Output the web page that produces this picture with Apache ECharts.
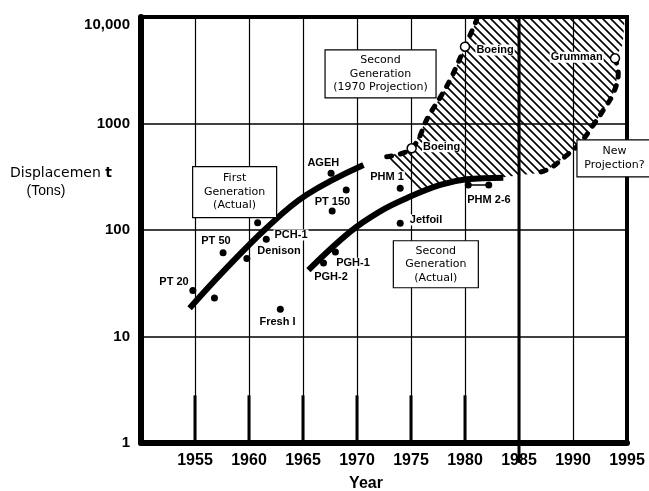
<!DOCTYPE html>
<html>
<head>
<meta charset="utf-8">
<script src="https://cdn.jsdelivr.net/npm/echarts@6.0.0/dist/echarts.min.js"></script>
<style>
  html, body { margin: 0; padding: 0; background: #fff; }
  #chart { width: 649px; height: 491px; }
</style>
</head>
<body>
<div id="chart"></div>
<script>
// Hydrofoil craft: full-load displacement (tons, log scale) against year.

// Individual craft (filled dots)
const craftYears = [1954.8, 1956.8, 1957.6, 1959.8, 1960.8, 1961.6, 1962.9, 1966.9, 1967.6, 1967.7, 1968.0, 1969.0, 1974.0, 1974.0];
const craftTons  = [27, 23, 61, 54, 117, 82, 18, 49, 341, 151, 62, 238, 246, 116];

// PHM 2-6 production span
const phmYears = [1980.3, 1982.2];
const phmTons  = [265, 265];

// Trend curves
const firstGenYears  = [1954.5, 1957.6, 1961.6, 1965.3, 1970.6];
const firstGenTons   = [18.4, 40.6, 104, 213, 408];
const secondGenYears = [1965.5, 1969.35, 1972.1, 1974.6, 1977.7, 1980.15, 1983.55];
const secondGenTons  = [42, 96, 149, 199, 265, 299, 310];

// 1970 projection envelope (dashed)
const projLeftYears  = [1972.75, 1975.06, 1976.6, 1977.84, 1978.77, 1980.0, 1981.08];
const projLeftTons   = [488, 585, 1159, 1852, 2750, 5260, 9370];
const projRightYears = [1993.89, 1994.19, 1993.73, 1992.81, 1991.88, 1990.65, 1989.26, 1987.87, 1986.64];
const projRightTons  = [4093, 2960, 1921, 1339, 968, 652, 488, 380, 341];

// Closing edges of the shaded envelope
const shadeTopYears  = [1981.3, 1994.8, 1994.6];
const shadeTopTons   = [10000, 10000, 5500];
const shadeFootYears = [1983.55, 1980.16, 1977.69, 1975.8];
const shadeFootTons  = [312, 300, 266, 222];

// Projected designs (open circles)
const designYears = [1975.06, 1980.0, 1993.89];
const designTons  = [585, 5260, 4093];

// Craft labels
const labelTexts = ['PT 20', 'PT 50', 'PCH-1', 'Denison', 'Fresh I', 'AGEH', 'PT 150', 'PGH-1', 'PGH-2', 'PHM 1', 'Jetfoil', 'PHM 2-6', 'Boeing', 'Boeing', 'Grumman'];
const labelYears = [1953.06, 1956.94, 1963.89, 1962.78, 1962.64, 1966.88, 1967.73, 1969.63, 1967.59, 1972.78, 1976.39, 1982.22, 1977.84, 1982.78, 1990.34];
const labelTons  = [32.5, 78.9, 89.8, 63.9, 13.8, 423, 184.5, 48.7, 36.4, 316, 124, 191, 606, 4898, 4185];

// Boxed captions
const boxTexts = ['First\nGeneration\n(Actual)', 'Second\nGeneration\n(1970 Projection)', 'Second\nGeneration\n(Actual)', 'New\nProjection?'];
const boxYears = [1958.67, 1972.18, 1977.3, 1993.84];
const boxTons  = [227, 2930, 47.7, 471];

// Axis ticks
const yearTicks = [1950, 1955, 1960, 1965, 1970, 1975, 1980, 1985, 1990, 1995];
const tonTicks  = [1, 10, 100, 1000, 10000];

// Heavy stubs at the foot of the year rules, and the heavy 1985 rule
const stubYears = [1955, 1960, 1965, 1970, 1975, 1980];
const stubFrom = 1, stubTo = 2.8;
const heavyRuleYear = 1985, heavyRuleFrom = 0.65, heavyRuleTo = 10000;

// ---- styling ----
const SANS = '"Liberation Sans", Arial, Helvetica, sans-serif';
const BOX_FONT = '11px "DejaVu Sans", sans-serif';
const LABEL_FONT = 'bold 11px ' + SANS;
const boxSizes = [[84, 51], [111, 48], [85, 47], [75, 37]];

const pairs = (xs, ys) => xs.map((x, i) => [x, ys[i]]);

function hatchPattern() {
  const s = 8;
  const c = document.createElement('canvas');
  c.width = s; c.height = s;
  const g = c.getContext('2d');
  g.strokeStyle = '#000';
  g.lineWidth = 1.6;
  g.beginPath();
  g.moveTo(-1, -1); g.lineTo(s + 1, s + 1);
  g.moveTo(s - 1, -1); g.lineTo(s + 1, 1);
  g.moveTo(-1, s - 1); g.lineTo(1, s + 1);
  g.stroke();
  return c;
}
const hatch = hatchPattern();

const chart = echarts.init(document.getElementById('chart'), null, { renderer: 'canvas' });

const option = {
  animation: false,
  backgroundColor: '#fff',
  grid: { left: 141, right: 22, top: 17, bottom: 48, show: true, borderColor: '#000', borderWidth: 4, backgroundColor: 'transparent' },
  xAxis: {
    type: 'value', min: yearTicks[0], max: yearTicks[yearTicks.length - 1], interval: 5,
    axisLine: { show: true, onZero: false, lineStyle: { color: '#000', width: 6 } },
    axisTick: { show: false },
    axisLabel: {
      margin: 10, color: '#000', fontFamily: SANS, fontWeight: 'bold', fontSize: 16,
      formatter: v => (v === yearTicks[0] ? '' : String(v))
    },
    splitLine: { show: true, lineStyle: { color: '#000', width: 1.2 } }
  },
  yAxis: {
    type: 'log', logBase: 10, min: tonTicks[0], max: tonTicks[tonTicks.length - 1],
    axisLine: { show: true, lineStyle: { color: '#000', width: 6 } },
    axisTick: { show: false },
    axisLabel: {
      margin: 11, color: '#000', fontFamily: SANS, fontWeight: 'bold', fontSize: 15,
      formatter: v => {
        const n = Math.round(v);
        return n === 10000 ? '{top|10,000}' : String(n);
      },
      rich: { top: { fontFamily: SANS, fontWeight: 'bold', fontSize: 15, color: '#000', padding: [16, 0, 0, 0] } }
    },
    splitLine: { show: true, lineStyle: { color: '#000', width: 1.5 } }
  },
  graphic: [
    { type: 'text', left: 10, top: 166, style: { text: 'Displacemen {b|t}', font: '14px "DejaVu Sans", sans-serif', fill: '#000',
      rich: { b: { font: 'bold 14px "DejaVu Sans", sans-serif', fill: '#000' } } } },
    { type: 'text', x: 46, y: 191, style: { text: '(Tons)', font: '14px "Liberation Sans Narrow", "Liberation Sans", sans-serif', fill: '#000', align: 'center', verticalAlign: 'middle' } },
    { type: 'text', x: 366, y: 484, style: { text: 'Year', font: 'bold 16px ' + SANS, fill: '#000', align: 'center', verticalAlign: 'middle' } }
  ],
  series: [
    // heavy rule stubs
    {
      type: 'custom', z: 1, clip: false,
      data: stubYears.map(y => [y, stubFrom, stubTo, 3]).concat([[heavyRuleYear, heavyRuleFrom, heavyRuleTo, 3]]),
      renderItem: (p, api) => {
        const a = api.coord([api.value(0), api.value(1)]);
        const b = api.coord([api.value(0), api.value(2)]);
        return { type: 'line', shape: { x1: a[0], y1: a[1], x2: b[0], y2: b[1] }, style: { stroke: '#000', lineWidth: api.value(3) } };
      }
    },
    // shaded projection envelope
    {
      type: 'custom', z: 2, clip: false,
      data: [[projLeftYears[0], projLeftTons[0]]],
      renderItem: (p, api) => {
        const ring = [].concat(
          pairs(projLeftYears, projLeftTons),
          pairs(shadeTopYears, shadeTopTons),
          pairs(projRightYears, projRightTons),
          pairs(shadeFootYears, shadeFootTons)
        );
        return { type: 'polygon', shape: { points: ring.map(pt => api.coord(pt)) }, style: { fill: { image: hatch, repeat: 'repeat' }, stroke: null } };
      }
    },
    // craft labels
    {
      type: 'custom', z: 3, clip: false,
      data: labelYears.map((y, i) => [y, labelTons[i], i]),
      renderItem: (p, api) => {
        const c = api.coord([api.value(0), api.value(1)]);
        return { type: 'text', x: c[0], y: c[1], style: { text: labelTexts[api.value(2)], font: LABEL_FONT, fill: '#000', align: 'center', verticalAlign: 'middle', backgroundColor: '#fff', padding: [0, 1] } };
      }
    },
    // trend curves
    { type: 'line', z: 4, data: pairs(firstGenYears, firstGenTons), smooth: 0.4, symbol: 'none', lineStyle: { color: '#000', width: 6, cap: 'butt' } },
    { type: 'line', z: 4, data: pairs(secondGenYears, secondGenTons), smooth: 0.4, symbol: 'none', lineStyle: { color: '#000', width: 6, cap: 'butt' } },
    // projection envelope edges
    { type: 'line', z: 4, data: pairs(projLeftYears, projLeftTons), smooth: 0.4, symbol: 'none', lineStyle: { color: '#000', width: 5, type: [5, 9], cap: 'round' } },
    { type: 'line', z: 4, data: pairs(projRightYears, projRightTons), smooth: 0.4, symbol: 'none', lineStyle: { color: '#000', width: 5, type: [5, 9], cap: 'round' } },
    // PHM 2-6
    { type: 'line', z: 5, data: pairs(phmYears, phmTons), symbol: 'circle', symbolSize: 7, showAllSymbol: true,
      itemStyle: { color: '#000', opacity: 1 }, lineStyle: { color: '#000', width: 1.5 } },
    // craft
    { type: 'scatter', z: 5, data: pairs(craftYears, craftTons), symbol: 'circle', symbolSize: 7, itemStyle: { color: '#000', opacity: 1 } },
    // projected designs
    { type: 'scatter', z: 6, data: pairs(designYears, designTons), symbol: 'circle', symbolSize: 9,
      itemStyle: { color: '#fff', borderColor: '#000', borderWidth: 1.5, opacity: 1 } },
    // boxed captions
    {
      type: 'custom', z: 7, clip: false,
      data: boxYears.map((y, i) => [y, boxTons[i], i]),
      renderItem: (p, api) => {
        const i = api.value(2);
        const c = api.coord([api.value(0), api.value(1)]);
        const w = boxSizes[i][0], h = boxSizes[i][1];
        return {
          type: 'group',
          children: [
            { type: 'rect', shape: { x: c[0] - w / 2, y: c[1] - h / 2, width: w, height: h }, style: { fill: '#fff', stroke: '#000', lineWidth: 1.2 } },
            { type: 'text', x: c[0], y: c[1], style: { text: boxTexts[i], font: BOX_FONT, fill: '#000', align: 'center', verticalAlign: 'middle', lineHeight: 13.5 } }
          ]
        };
      }
    }
  ]
};

chart.setOption(option);
</script>
</body>
</html>
